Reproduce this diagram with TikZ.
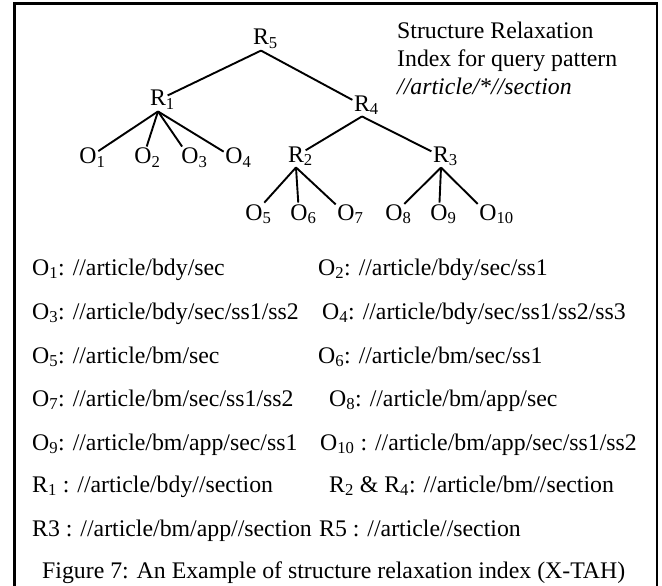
\documentclass[tikz,border=0pt]{standalone}
\usepackage{fontspec}
\setmainfont{Liberation Serif}
\begin{document}
\begin{tikzpicture}[x=1pt,y=-1pt,
  every node/.style={font=\fontsize{23.8}{28}\selectfont},
  lbl/.style={inner sep=1.5pt, anchor=base},
  row/.style={inner sep=0pt, anchor=base west},
  edge/.style={line width=1.9pt}]
\useasboundingbox (0,0) rectangle (662,586);
% frame (open at the bottom edge of the page)
\draw[line width=2.2pt] (14.5,590) -- (14.5,3.5) -- (657,3.5) -- (657,590);

% tree labels
\node[lbl] (R5) at (261,45) {R\rlap{\textsubscript{5}}};
\node[lbl] (R1) at (158,106) {R\rlap{\textsubscript{1}}};
\node[lbl] (R4) at (362,111) {R\rlap{\textsubscript{4}}};
\node[lbl] (O1) at (88,164) {O\rlap{\textsubscript{1}}};
\node[lbl] (O2) at (143,164) {O\rlap{\textsubscript{2}}};
\node[lbl] (O3) at (190,164) {O\rlap{\textsubscript{3}}};
\node[lbl] (O4) at (234,164) {O\rlap{\textsubscript{4}}};
\node[lbl] (R2) at (296,162) {R\rlap{\textsubscript{2}}};
\node[lbl] (R3) at (441,162) {R\rlap{\textsubscript{3}}};
\node[lbl] (O5) at (254,220) {O\rlap{\textsubscript{5}}};
\node[lbl] (O6) at (299,220) {O\rlap{\textsubscript{6}}};
\node[lbl] (O7) at (346,220) {O\rlap{\textsubscript{7}}};
\node[lbl] (O8) at (394,220) {O\rlap{\textsubscript{8}}};
\node[lbl] (O9) at (439,220) {O\rlap{\textsubscript{9}}};
\node[lbl] (O10) at (488,220) {O\rlap{\textsubscript{10}}};

% tree edges
\draw[edge] (R5.south) -- (R1);
\draw[edge] (R5.south) -- (R4);
\foreach \c in {O1,O2,O3,O4} \draw[edge] (R1.south) -- (\c);
\draw[edge] (R4.south) -- (R2);
\draw[edge] (R4.south) -- (R3);
\foreach \c in {O5,O6,O7} \draw[edge] (R2.south) -- (\c);
\foreach \c in {O8,O9,O10} \draw[edge] (R3.south) -- (\c);

% heading beside the tree
\node[row] (h1) at (397,39) {Structure Relaxation};
\node[row] (h2) at (397,67) {Index for query pattern};
\node[row] (h3) at (397,95) {\itshape //article/*//section};

% path list
\node[row] (l1)  at (32,275) {O\textsubscript{1}: //article/bdy/sec};
\node[row] (r1)  at (318,275) {O\textsubscript{2}: //article/bdy/sec/ss1};
\node[row] (l2)  at (32,319) {O\textsubscript{3}: //article/bdy/sec/ss1/ss2};
\node[row] (r2)  at (322,319) {O\textsubscript{4}: //article/bdy/sec/ss1/ss2/ss3};
\node[row] (l3)  at (32,363) {O\textsubscript{5}: //article/bm/sec};
\node[row] (r3)  at (318,363) {O\textsubscript{6}: //article/bm/sec/ss1};
\node[row] (l4)  at (32,406) {O\textsubscript{7}: //article/bm/sec/ss1/ss2};
\node[row] (r4)  at (329,406) {O\textsubscript{8}: //article/bm/app/sec};
\node[row] (l5)  at (32,450) {O\textsubscript{9}: //article/bm/app/sec/ss1};
\node[row] (r5)  at (320,450) {O\textsubscript{10} : //article/bm/app/sec/ss1/ss2};
\node[row] (l6)  at (32,492) {R\textsubscript{1} : //article/bdy//section};
\node[row] (r6)  at (329,492) {R\textsubscript{2} \& R\textsubscript{4}: //article/bm//section};
\node[row] (l7)  at (32,536) {R3 : //article/bm/app//section};
\node[row] (r7)  at (319,536) {R5 : //article//section};

% caption
\node[row] (cap) at (42,578) {Figure 7: An Example of structure relaxation index (X-TAH)};
\end{tikzpicture}
\end{document}
